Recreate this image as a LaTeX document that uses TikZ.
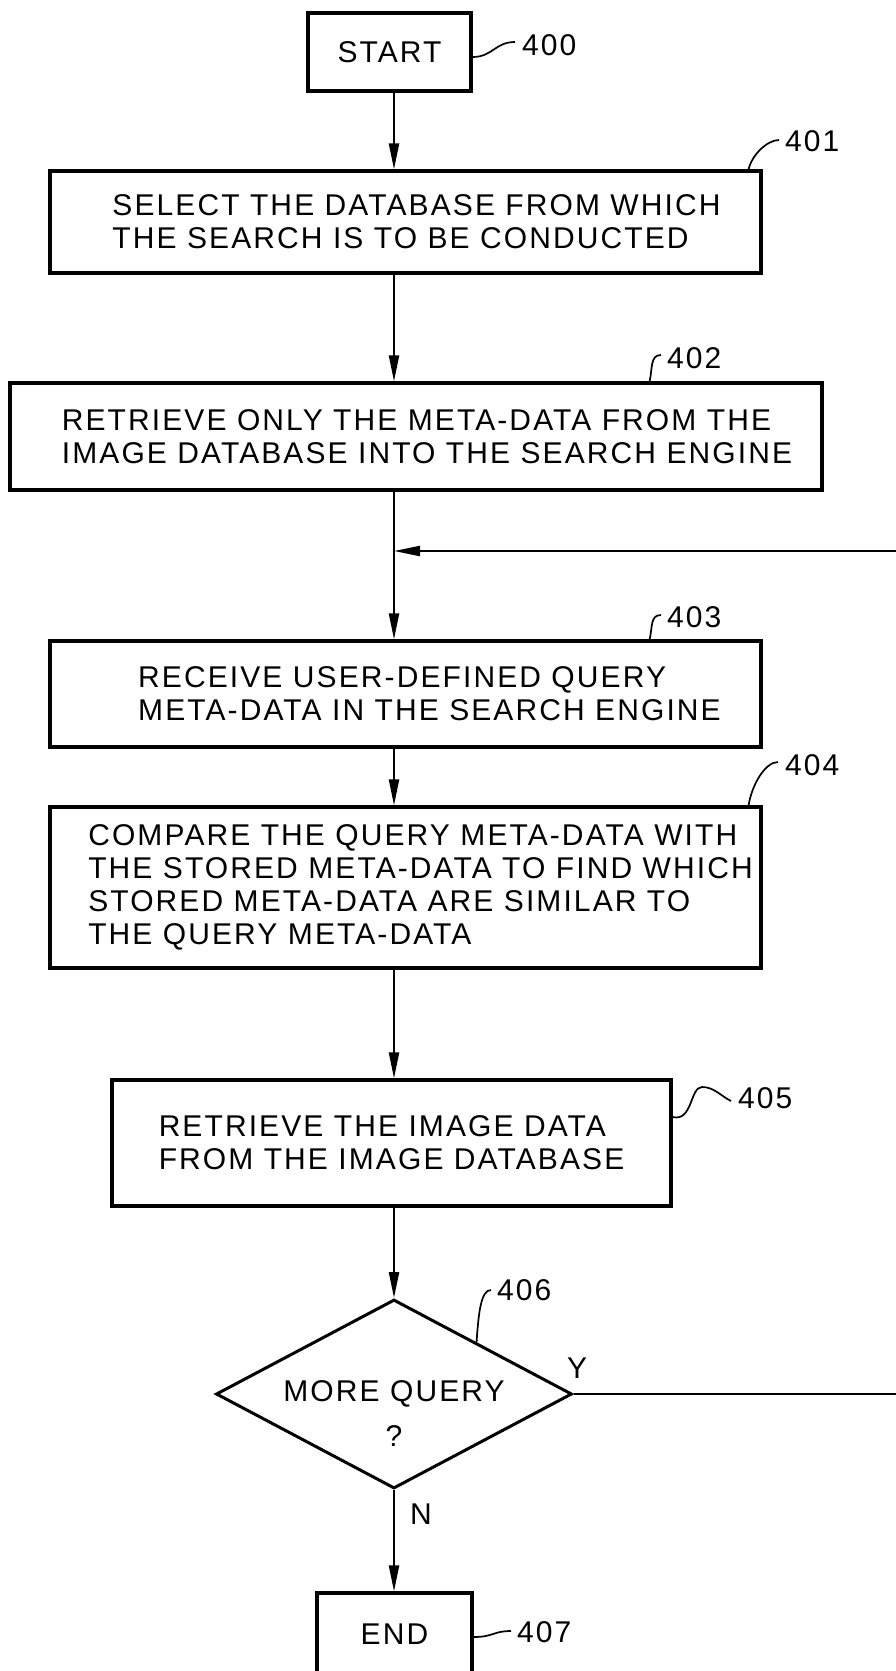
\documentclass[tikz,border=0pt]{standalone}
\usepackage{fontspec}
\setmainfont{Liberation Sans}
\newfontfamily\drawfont[LetterSpace=7]{Liberation Sans}
\usetikzlibrary{arrows.meta,shapes.geometric,calc}
\begin{document}
\begin{tikzpicture}[x=1pt,y=-1pt,
  txt/.style={font=\drawfont\fontsize{30}{33}\selectfont, inner sep=0pt},
  box/.style={txt, draw, line width=3.2pt, align=left},
  conn/.style={line width=2.2pt},
  arr/.style={conn, -{Triangle[length=26pt,width=10pt]}},
  lead/.style={line width=1.7pt},
  lbl/.style={txt, anchor=west}]
\useasboundingbox[fill=white] (0,0) rectangle (896,1671);
\coordinate (ax) at (394,0);
% boxes
\node[box, minimum width=163pt, minimum height=78pt] (start) at (389.5,52) {START};
\node[box, minimum width=711pt, minimum height=102pt] (s1) at (405.5,222)
  {\hspace*{22pt}SELECT THE DATABASE FROM WHICH\\\hspace*{22pt}THE SEARCH IS TO BE CONDUCTED};
\node[box, minimum width=812pt, minimum height=107pt] (s2) at (416,436.5)
  {\hspace*{22pt}RETRIEVE ONLY THE META-DATA FROM THE\\\hspace*{22pt}IMAGE DATABASE INTO THE SEARCH ENGINE};
\node[box, minimum width=711pt, minimum height=106pt] (s3) at (405.5,694)
  {\hspace*{48pt}RECEIVE USER-DEFINED QUERY\\\hspace*{48pt}META-DATA IN THE SEARCH ENGINE};
\node[box, minimum width=711pt, minimum height=161pt] (s4) at (405.5,887.5)
  {\hspace*{30pt}COMPARE THE QUERY META-DATA WITH\\\hspace*{30pt}THE STORED META-DATA TO FIND WHICH\\\hspace*{30pt}STORED META-DATA ARE SIMILAR TO\\\hspace*{30pt}THE QUERY META-DATA};
\node[box, minimum width=559pt, minimum height=126pt] (s5) at (391.5,1143)
  {RETRIEVE THE IMAGE DATA\\FROM THE IMAGE DATABASE};
\node[draw, diamond, line width=3pt, inner sep=0pt, minimum width=356pt, minimum height=189pt] (dia) at (394,1394) {};
\node[txt] (mq) at (394,1394) {MORE QUERY};
\node[txt] (qm) at (394,1436) {?};
\node[box, minimum width=155pt, minimum height=83pt] (end) at (394.5,1634.5) {END};
% connectors
\draw[arr] (ax |- start.south) -- (ax |- s1.north);
\draw[arr] (ax |- s1.south) -- (ax |- s2.north);
\draw[arr] (ax |- s2.south) -- (ax |- s3.north);
\draw[arr] (ax |- s3.south) -- (ax |- s4.north);
\draw[arr] (ax |- s4.south) -- (ax |- s5.north);
\draw[arr] (ax |- s5.south) -- (dia.north);
\draw[arr] (dia.south) -- (ax |- end.north);
\coordinate (j) at (394,551);
\coordinate (lr) at (896,551);
\coordinate (yr) at (896,1394);
\draw[arr] (lr) -- (j);
\draw[conn] (dia.east) -- (yr);
\node[txt] (ylab) at (577,1368) {Y};
\node[txt] (nlab) at (421,1514) {N};
% reference labels
\node[lbl] (l400) at (522,45) {400};
\draw[lead] ([yshift=-5pt]start.east) .. controls +(20,0) and +(-20,0) .. ([xshift=-7pt,yshift=3pt]l400.west);
\node[lbl] (l401) at (785,141) {401};
\draw[lead] ([xshift=-14pt]s1.north east) .. controls +(3,-14) and +(-12,0) .. ([xshift=-6pt,yshift=1pt]l401.west);
\node[lbl] (l402) at (667,358) {402};
\draw[lead] ([xshift=-174pt]s2.north east) .. controls +(3,-13) and +(-11,0) .. ([xshift=-6pt,yshift=3pt]l402.west);
\node[lbl] (l403) at (667,617) {403};
\draw[lead] ([xshift=-113pt]s3.north east) .. controls +(3,-12) and +(-11,0) .. ([xshift=-6pt,yshift=2pt]l403.west);
\node[lbl] (l404) at (785,765) {404};
\draw[lead] ([xshift=-14pt]s4.north east) .. controls +(3,-20) and +(-13,0) .. ([xshift=-7pt,yshift=3pt]l404.west);
\node[lbl] (l405) at (738,1098) {405};
\draw[lead] ([yshift=26pt]s5.east) .. controls +(20,5) and +(-12,0) .. (702,1087) .. controls +(12,0) and +(-10,-5) .. ([xshift=-7pt,yshift=-3pt]l405.west);
\node[lbl] (l406) at (497,1290) {406};
\draw[lead] ($(dia.north)!0.46!(dia.east)$) .. controls +(2,-30) and +(-10,0) .. ([xshift=-6pt]l406.west);
\node[lbl] (l407) at (517,1632) {407};
\draw[lead] ([yshift=-2.5pt]end.east) .. controls +(20,0) and +(-18,0) .. ([xshift=-6pt,yshift=1pt]l407.west);
\end{tikzpicture}
\end{document}
